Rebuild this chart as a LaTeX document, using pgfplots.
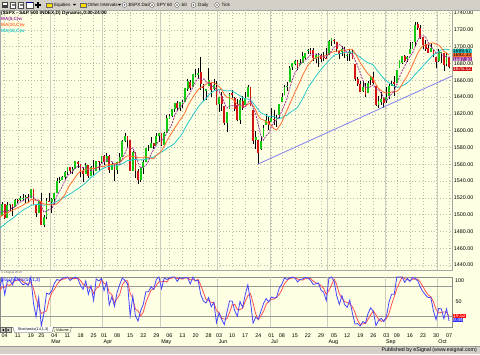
\documentclass[border=0pt]{standalone}
\usepackage{pgfplots}
\pgfplotsset{compat=1.18}
\usepackage{pgfplotstable}
\usepackage{fontspec}
\setmainfont{Liberation Sans}
\definecolor{bgy}{RGB}{255,255,228}
\definecolor{tbar}{RGB}{212,208,200}
\definecolor{upc}{RGB}{20,200,20}
\definecolor{dnc}{RGB}{210,20,20}
\definecolor{ma5}{RGB}{153,51,153}
\definecolor{ma10}{RGB}{255,110,50}
\definecolor{ma18}{RGB}{40,200,200}
\definecolor{trend}{RGB}{128,128,240}
\definecolor{kblue}{RGB}{70,70,255}
\definecolor{dred}{RGB}{255,80,80}
\definecolor{gridc}{RGB}{185,185,172}
\definecolor{monc}{RGB}{205,205,190}
\newcommand{\tb}{\fontsize{4.6}{5}\selectfont}
\newcommand{\lb}{\fontsize{5.4}{6}\selectfont}
\newcommand{\fl}{\fontsize{5}{5}\selectfont}
\pgfplotstableread{
i o h l c m5 m10 m18 k d
-2 1501.97 1504.19 1496.76 1498.11 1502.2 1496.1 1483.4 75 70
-1 1498.11 1514.41 1498.11 1513.17 1504.2 1499.3 1486.2 98 80
0 1513.17 1513.17 1495.02 1495.71 1503.4 1500.3 1488.4 64 79
1 1495.71 1514.96 1495.71 1511.29 1504.0 1502.1 1491.2 91 84.3
2 1511.29 1512.53 1504.71 1512.12 1506.0 1503.8 1493.4 93 82.7
3 1512.12 1512.90 1498.49 1509.39 1508.2 1505.2 1495.4 84 89.3
4 1509.39 1518.31 1509.39 1517.93 1509.2 1506.7 1498.1 100 92.3
5 1517.93 1518.31 1513.61 1517.01 1513.4 1508.4 1500.6 97 93.7
6 1517.01 1522.29 1515.61 1519.43 1515.0 1509.5 1503.1 90 95.7
7 1519.43 1524.69 1515.93 1520.33 1516.6 1511.3 1505.3 84 90.3
8 1520.33 1523.14 1514.02 1521.38 1519.0 1513.6 1507.2 87 87
9 1521.38 1524.24 1514.14 1519.79 1519.4 1514.3 1508.7 83 84.7
10 1519.79 1530.94 1519.79 1530.94 1522.2 1517.8 1510.7 100 90
11 1530.94 1530.94 1511.41 1511.95 1520.8 1517.9 1511.7 47 76.7
12 1511.95 1511.95 1497.29 1502.42 1517.2 1516.9 1511.6 19 55.3
13 1502.42 1515.64 1502.42 1515.60 1516.2 1517.6 1512.5 58 41.3
14 1515.60 1525.84 1487.85 1487.85 1509.8 1514.6 1511.4 0 25.7
15 1487.85 1498.99 1485.01 1496.94 1503.0 1512.6 1511.1 26 28
16 1496.94 1520.08 1494.88 1515.99 1503.8 1512.3 1512.1 67 31
17 1515.99 1525.34 1514.46 1514.68 1506.4 1511.8 1512.2 65 52.7
18 1514.68 1519.99 1501.48 1518.20 1506.8 1511.5 1513.4 72 68
19 1518.20 1525.27 1512.29 1525.20 1514.2 1512.0 1514.2 87 74.7
20 1525.20 1543.47 1525.20 1539.79 1522.8 1512.9 1515.8 95 84.7
21 1539.79 1545.25 1538.11 1541.46 1527.8 1515.8 1517.6 93 91.7
22 1541.46 1545.78 1541.46 1544.26 1533.6 1520.0 1519.0 97 95
23 1544.26 1552.48 1542.94 1551.18 1540.2 1523.5 1520.9 99 96.3
24 1551.15 1556.27 1547.36 1556.22 1546.4 1530.3 1522.9 100 98.7
25 1556.22 1556.77 1548.24 1552.48 1548.8 1535.8 1524.7 93 97.3
26 1552.48 1556.39 1548.25 1554.52 1551.6 1539.7 1526.6 97 96.7
27 1554.52 1563.32 1554.52 1563.23 1555.4 1544.5 1529.0 100 96.7
28 1563.21 1563.62 1555.74 1560.70 1557.4 1548.8 1530.7 96 97.7
29 1560.70 1560.70 1545.13 1552.10 1556.6 1551.5 1532.9 83 93
30 1552.10 1557.25 1538.57 1548.34 1555.8 1552.3 1535.4 75 84.7
31 1548.34 1561.56 1548.34 1558.71 1556.6 1554.1 1537.8 92 83.3
32 1558.71 1558.71 1543.55 1545.80 1553.2 1554.3 1541.1 65 77.3
33 1545.90 1557.74 1545.90 1556.89 1552.4 1554.9 1544.4 82 79.7
34 1556.89 1564.91 1546.22 1551.69 1552.4 1554.5 1546.4 52 66.3
35 1551.69 1563.95 1551.69 1563.77 1555.6 1555.7 1549.1 96 76.7
36 1563.75 1564.07 1551.90 1562.85 1556.4 1556.5 1551.6 92 80
37 1562.86 1570.28 1561.08 1569.19 1561.0 1557.1 1554.1 97 95
38 1569.18 1570.57 1558.47 1562.17 1562.0 1557.2 1555.3 72 87
39 1562.17 1573.66 1562.17 1570.25 1565.6 1559.0 1556.9 89 86
40 1570.25 1571.47 1549.80 1553.69 1563.6 1559.6 1557.4 43 68
41 1553.69 1562.60 1552.52 1559.98 1563.0 1559.7 1557.9 60 64
42 1559.98 1559.98 1539.50 1553.28 1559.8 1560.4 1557.8 40 47.7
43 1553.26 1563.07 1548.63 1563.07 1560.0 1561.0 1558.4 69 56.3
44 1563.11 1573.89 1560.92 1568.61 1559.8 1562.7 1559.2 85 64.7
45 1568.61 1589.07 1568.61 1587.73 1566.6 1565.1 1560.6 98 84
46 1587.73 1597.35 1586.17 1593.37 1573.2 1568.1 1562.3 93 92
47 1593.30 1593.30 1579.97 1588.85 1580.4 1570.1 1564.4 86 92.3
48 1588.84 1588.84 1552.28 1552.36 1578.2 1569.1 1564.6 21 66.7
49 1552.36 1575.35 1552.36 1574.57 1579.4 1569.6 1565.5 61 56
50 1574.57 1574.57 1543.69 1552.01 1572.2 1569.4 1565.8 21 34.3
51 1552.03 1554.38 1536.03 1541.61 1562.0 1567.6 1565.0 10 30.7
52 1541.61 1555.89 1539.40 1555.25 1555.2 1567.8 1565.2 31 20.7
53 1555.25 1565.55 1548.19 1562.50 1557.4 1567.8 1565.1 44 28.3
54 1562.50 1579.58 1562.50 1578.78 1558.2 1568.8 1566.0 70 48.3
55 1578.78 1583.00 1575.80 1578.79 1563.6 1567.9 1566.6 70 61.3
56 1578.78 1592.64 1578.78 1585.16 1572.2 1567.1 1567.8 80 73.3
57 1585.16 1585.78 1577.56 1582.24 1577.6 1566.4 1568.5 75 75
58 1582.34 1596.65 1582.34 1593.61 1583.8 1570.6 1570.7 95 83.3
59 1593.58 1597.57 1586.50 1597.57 1587.6 1572.9 1572.8 100 90
60 1597.55 1597.55 1581.28 1582.70 1588.4 1576.0 1574.5 76 90.3
61 1582.77 1598.60 1582.77 1597.59 1591.0 1581.6 1576.4 98 91.3
62 1597.60 1618.46 1597.60 1614.42 1597.4 1587.5 1578.9 95 89.7
63 1614.40 1619.77 1614.21 1617.50 1602.2 1593.0 1580.6 98 97
64 1617.55 1626.03 1616.64 1625.96 1607.8 1597.7 1582.4 100 97.7
65 1625.95 1632.78 1622.70 1632.69 1617.8 1603.1 1584.9 100 99.3
66 1632.69 1635.01 1623.09 1626.67 1623.6 1607.3 1589.1 91 97
67 1626.69 1633.70 1623.71 1633.70 1627.6 1612.5 1592.3 99 96.7
68 1632.10 1636.00 1626.74 1633.77 1630.8 1616.5 1596.9 97 95.7
69 1633.75 1651.10 1633.75 1650.34 1635.6 1621.7 1602.9 99 98.3
70 1649.13 1661.49 1646.68 1658.78 1640.8 1629.3 1608.7 98 98
71 1658.07 1660.51 1648.60 1650.47 1645.4 1634.5 1613.5 86 94.3
72 1652.45 1667.47 1652.45 1667.47 1652.0 1639.8 1618.4 100 94.7
73 1665.71 1672.84 1663.52 1666.29 1658.4 1644.6 1623.2 92 92.7
74 1666.20 1674.93 1662.67 1669.16 1662.2 1648.9 1627.9 93 95
75 1669.39 1687.18 1648.86 1655.35 1661.4 1651.1 1631.9 64 83
76 1651.62 1655.50 1635.53 1650.51 1661.6 1653.5 1635.1 51 69.3
77 1646.67 1649.78 1636.88 1649.60 1658.2 1655.1 1638.0 47 54
78 1652.63 1674.21 1652.63 1660.06 1657.0 1657.7 1642.3 58 52
79 1656.57 1656.57 1640.05 1648.36 1652.8 1657.5 1645.1 39 48
80 1649.14 1661.91 1648.61 1654.41 1652.6 1657.0 1647.3 48 48.3
81 1652.13 1658.99 1630.74 1630.74 1648.6 1655.1 1648.0 7 31.3
82 1631.71 1640.42 1622.72 1640.42 1646.6 1652.4 1648.8 27 27.3
83 1640.73 1646.53 1623.62 1631.38 1640.8 1648.9 1648.7 13 15.7
84 1629.05 1629.31 1607.09 1608.90 1633.0 1642.9 1647.7 3 14.3
85 1609.29 1622.56 1598.23 1622.56 1626.8 1639.7 1647.1 28 14.7
86 1625.27 1644.40 1625.27 1643.38 1629.2 1638.9 1647.6 51 27.3
87 1644.67 1648.69 1639.26 1642.81 1629.8 1638.2 1647.2 51 43.3
88 1638.64 1640.13 1622.92 1626.13 1628.8 1634.8 1645.3 31 44.3
89 1629.94 1637.71 1610.92 1612.52 1629.6 1631.3 1643.3 20 34
90 1612.15 1639.25 1608.07 1636.36 1632.2 1629.5 1641.6 50 33.7
91 1635.52 1640.80 1623.96 1626.73 1629.0 1629.1 1639.4 38 36
92 1630.64 1646.50 1630.34 1639.04 1628.2 1629.0 1637.7 64 50.7
93 1639.77 1654.19 1639.77 1651.81 1633.4 1631.1 1637.6 84 62
94 1651.83 1652.45 1628.91 1628.93 1636.6 1633.1 1636.3 51 66.3
95 1624.62 1624.62 1584.32 1588.19 1627.0 1629.6 1632.9 6 47
96 1588.62 1599.19 1577.70 1592.43 1620.0 1624.5 1629.1 18 25
97 1588.77 1588.77 1560.33 1573.09 1606.8 1617.5 1624.9 14 12.7
98 1577.52 1593.79 1577.09 1588.03 1594.0 1613.7 1621.3 30 20.7
99 1592.27 1606.83 1592.27 1603.26 1588.8 1612.7 1619.7 46 30
100 1606.44 1620.07 1606.44 1613.20 1593.8 1610.4 1618.2 56 44
101 1611.12 1615.94 1601.06 1606.28 1596.6 1608.3 1616.8 49 50.3
102 1609.78 1626.61 1609.78 1614.96 1605.0 1605.9 1617.2 59 54.7
103 1614.29 1624.26 1606.77 1614.08 1610.2 1602.1 1616.7 57 55
104 1611.48 1618.97 1604.57 1615.41 1612.6 1600.7 1615.1 59 58.3
105 1618.65 1632.07 1614.71 1631.89 1616.4 1605.1 1614.5 77 64.3
106 1634.20 1644.68 1634.20 1640.46 1623.2 1609.9 1615.3 85 73.7
107 1642.89 1654.18 1642.89 1652.32 1630.6 1617.8 1617.4 98 86.7
108 1652.50 1657.92 1647.66 1652.62 1638.4 1624.3 1618.4 95 92.7
109 1657.41 1676.63 1657.41 1675.02 1650.4 1631.5 1621.1 98 97
110 1675.26 1680.19 1672.33 1680.19 1660.0 1638.2 1623.3 100 97.7
111 1679.59 1684.51 1677.89 1682.50 1668.6 1645.9 1625.1 98 98.7
112 1682.70 1683.73 1671.84 1676.26 1673.4 1652.0 1627.7 90 96
113 1677.91 1684.75 1677.91 1680.91 1679.0 1658.7 1632.8 95 94.3
114 1681.05 1693.12 1681.05 1689.37 1681.8 1666.1 1638.2 96 93.7
115 1686.15 1692.09 1684.08 1692.09 1684.2 1672.1 1644.8 99 96.7
116 1694.41 1697.61 1690.67 1695.53 1686.8 1677.7 1650.8 98 97.7
117 1695.53 1698.78 1691.13 1692.39 1690.0 1681.7 1655.8 93 96.7
118 1696.06 1698.38 1682.57 1685.94 1691.0 1685.0 1659.8 85 92
119 1685.21 1690.94 1680.07 1690.25 1691.2 1686.5 1664.5 86 88
120 1687.31 1691.85 1676.03 1691.65 1691.2 1687.7 1668.8 88 86.3
121 1690.32 1690.92 1681.86 1685.33 1689.0 1687.9 1672.7 73 82.3
122 1687.92 1693.19 1682.42 1685.96 1687.8 1688.9 1676.7 69 76.7
123 1686.22 1698.43 1684.94 1685.73 1687.8 1689.4 1679.7 52 64.7
124 1689.42 1707.85 1689.42 1706.87 1691.2 1691.2 1683.4 97 72.7
125 1706.10 1709.67 1700.68 1709.67 1694.8 1693.0 1686.6 100 83
126 1708.01 1709.24 1703.55 1707.14 1699.2 1694.1 1689.6 91 96
127 1705.79 1705.79 1693.29 1697.37 1701.4 1694.6 1690.8 62 84.3
128 1695.30 1695.30 1684.91 1690.91 1702.4 1695.1 1691.4 44 65.7
129 1693.35 1700.18 1688.38 1697.48 1700.4 1695.8 1692.2 62 56
130 1696.10 1699.42 1686.02 1691.42 1696.6 1695.7 1693.1 44 50
131 1688.37 1691.49 1683.35 1689.47 1693.0 1696.1 1693.5 38 48
132 1690.65 1696.81 1682.62 1694.16 1692.4 1696.9 1693.8 53 45
133 1693.88 1695.52 1684.83 1685.39 1691.2 1696.8 1693.4 26 39
134 1679.61 1679.61 1658.59 1661.32 1684.0 1692.2 1691.4 4 27.7
135 1661.22 1663.60 1652.61 1655.83 1677.0 1686.8 1689.4 5 11.7
136 1655.25 1659.18 1645.84 1646.06 1668.4 1680.7 1687.2 0 3
137 1646.81 1658.92 1646.08 1652.35 1660.0 1676.2 1685.1 9 4.7
138 1650.66 1656.99 1639.43 1642.80 1651.6 1671.4 1682.4 6 5
139 1645.03 1659.55 1645.03 1656.96 1650.8 1667.4 1680.8 26 13.7
140 1659.92 1664.85 1654.81 1663.50 1652.4 1664.7 1679.6 37 23
141 1664.29 1669.51 1656.02 1656.78 1654.6 1661.5 1678.0 30 31
142 1652.54 1652.54 1629.05 1630.48 1650.2 1655.1 1673.7 1 22.7
143 1630.25 1641.18 1627.47 1634.96 1648.6 1650.1 1669.6 11 14
144 1633.50 1646.41 1630.88 1638.17 1644.8 1647.8 1665.7 16 9.3
145 1638.89 1640.08 1627.47 1632.97 1638.6 1645.5 1662.2 9 12
146 1635.95 1651.35 1633.41 1639.77 1635.2 1644.9 1659.3 19 14.7
147 1640.72 1655.72 1637.41 1653.08 1639.8 1645.0 1656.9 49 25.7
148 1653.28 1659.17 1653.07 1655.08 1643.8 1646.2 1654.9 65 44.3
149 1657.44 1664.83 1640.62 1655.17 1647.2 1646.0 1653.0 65 59.7
150 1656.85 1672.40 1656.85 1671.71 1655.0 1646.8 1651.8 100 76.7
151 1675.11 1684.09 1675.11 1683.99 1663.8 1649.5 1651.7 100 88.3
152 1681.04 1689.13 1678.70 1689.13 1671.0 1655.4 1653.3 100 100
153 1689.21 1689.97 1681.96 1683.42 1676.6 1660.2 1654.8 89 96.3
154 1685.04 1688.73 1682.22 1687.99 1683.2 1665.2 1657.1 97 95.3
155 1691.70 1704.95 1691.70 1697.60 1688.4 1671.7 1659.7 91 92.3
156 1697.73 1705.52 1697.73 1704.76 1692.6 1678.2 1663.1 99 95.7
157 1705.74 1729.44 1700.35 1725.52 1700.0 1685.5 1666.9 97 95.7
158 1727.34 1729.86 1720.20 1722.34 1707.8 1692.2 1670.2 92 96
159 1722.44 1725.23 1708.89 1709.91 1712.2 1697.7 1673.1 79 89.3
160 1711.44 1711.44 1697.10 1701.84 1713.0 1700.7 1677.1 70 80.3
161 1702.60 1707.63 1694.90 1697.42 1711.4 1702.0 1680.6 63 70.7
162 1698.02 1701.71 1691.88 1692.77 1704.8 1702.4 1683.6 58 63.7
163 1694.05 1703.85 1693.11 1698.67 1700.2 1704.0 1687.3 58 59.7
164 1695.52 1695.52 1687.11 1691.75 1696.6 1704.4 1690.2 31 49
165 1687.26 1687.26 1674.99 1681.55 1692.6 1702.8 1691.8 13 34
166 1682.41 1696.55 1682.07 1695.00 1692.2 1701.8 1694.0 36 26.7
167 1691.90 1693.87 1680.34 1693.87 1692.4 1698.6 1696.2 35 28
168 1692.35 1692.35 1670.36 1678.66 1688.4 1694.3 1696.6 15 28.7
169 1678.79 1691.94 1677.33 1690.50 1688.2 1692.4 1696.9 35 28.3
170 1687.15 1687.15 1674.70 1676.12 1687.0 1689.8 1696.2 10 20
}\data
\begin{document}
\begin{tikzpicture}[x=1bp,y=1bp]
\useasboundingbox (0,0) rectangle (480,354);
\fill[bgy] (0,0) rectangle (480,354);
% ---------- price panel ----------
\begin{axis}[
  at={(0bp,84bp)}, anchor=south west, scale only axis,
  width=452bp, height=260bp,
  xmin=-1.8, xmax=171.1, ymin=1434.05, ymax=1743.57,
  clip=false,
  axis line style={draw=black!35, line width=0.6bp},
  xtick={0,5,10,14,19,24,29,34,38,43,48,53,58,63,68,73,78,82,87,92,97,102,106,111,116,121,126,131,136,141,146,150,155,160,165,170},
  xticklabels={},
  ytick={1440,1460,...,1740},
  yticklabel pos=right,
  major tick length=0pt,
  grid=major,
  major grid style={gridc, line width=0.5bp, dash pattern=on 0.5bp off 2.6bp},
  extra x ticks={17.5,37.5,59.5,81.5,101.5,123.5,145.5,165.5},
  extra x tick labels={},
  extra x tick style={grid=major, major grid style={monc, line width=0.7bp, solid}},
  yticklabel style={font=\lb, anchor=west, inner sep=0pt, xshift=1.6bp},
  /pgf/number format/fixed, /pgf/number format/fixed zerofill,
  /pgf/number format/precision=2, /pgf/number format/1000 sep={},
  /pgf/number format/assume math mode=true,
]
\addplot[black, line width=0.6bp, quiver={u=0, v=\thisrow{h}-\thisrow{l}}]
  table[x=i, y=l] {\data};
\addplot[upc, line width=1.8bp, quiver={u=0, v=\thisrow{c}-\thisrow{o}}]
  table[x=i, y expr={\thisrow{c}>=\thisrow{o} ? \thisrow{o} : nan}] {\data};
\addplot[dnc, line width=1.8bp, quiver={u=0, v=\thisrow{c}-\thisrow{o}}]
  table[x=i, y expr={\thisrow{c}<\thisrow{o} ? \thisrow{o} : nan}] {\data};
\addplot[ma18, line width=0.8bp] table[x=i, y=m18] {\data};
\addplot[ma10, line width=0.8bp] table[x=i, y=m10] {\data};
\addplot[ma5, line width=0.8bp, dash pattern=on 2bp off 1bp] table[x=i, y=m5] {\data};
\addplot[trend, line width=0.8bp] coordinates {(97,1560.33) (171.1,1665)};
\end{axis}
% ---------- stochastic panel ----------
\begin{axis}[
  at={(0bp,27bp)}, anchor=south west, scale only axis,
  width=452bp, height=50bp,
  xmin=-1.8, xmax=171.1, ymin=-2, ymax=100,
  clip=false,
  axis line style={draw=black!45, line width=0.9bp},
  xtick={0,5,10,14,19,24,29,34,38,43,48,53,58,63,68,73,78,82,87,92,97,102,106,111,116,121,126,131,136,141,146,150,155,160,165,170},
  xticklabels={04,11,19,25,04,11,18,25,01,08,15,22,29,06,13,20,28,03,10,17,24,01,08,15,22,29,05,12,19,26,03,09,16,23,30,07},
  xticklabel style={font=\lb, anchor=base, yshift=-10.3bp, inner sep=0pt},
  ytick=\empty,
  major tick length=0pt,
  extra x ticks={17.5,37.5,59.5,81.5,101.5,123.5,145.5,165.5},
  extra x tick labels={},
  extra x tick style={grid=major, major grid style={monc, line width=0.7bp, solid}},
]
\draw[black!40, line width=0.9bp] (axis cs:-1.8,80) -- (axis cs:171.1,80);
\draw[black!40, line width=0.9bp] (axis cs:-1.8,20) -- (axis cs:171.1,20);
\addplot[dred, line width=0.8bp] table[x=i, y=d] {\data};
\addplot[kblue, line width=0.8bp] table[x=i, y=k] {\data};
\end{axis}
% month labels
\foreach \mx/\n in {50.45/Mar,102.74/Apr,160.25/May,217.76/Jun,270.05/Jul,327.56/Aug,385.07/Sep,437.36/Oct}{
  \node[anchor=base west, font=\lb, inner sep=0pt] at (\mx+0.8,10.2) {\n};
}
% ---------- toolbar ----------
\fill[tbar] (0,344) rectangle (480,354);
\draw[black!35, line width=0.5bp] (0,344) -- (480,344);
\fill[black!75] (2,346) rectangle (8,352); \fill[white] (3,349) rectangle (7,351);
\draw[black!70, fill=white, line width=0.3bp] (10.5,346) rectangle (15.5,352);
\draw[black!50, line width=0.3bp] (11.5,350)--(14.5,350) (11.5,348.5)--(14.5,348.5);
\draw[black!70, fill=white, line width=0.3bp] (18.5,346) rectangle (23.5,352);
\draw[black!50, line width=0.3bp] (19.5,350)--(22.5,350) (19.5,348.5)--(22.5,348.5);
\draw[black!70, fill=white, line width=0.3bp] (26,346) rectangle (33,352);
\fill[blue!60!black] (26,350.8) rectangle (33,352);
\draw[black, line width=1.1bp] (35,349)--(41,349) (38,346)--(38,352);
\fill[yellow!80!orange] (46,346.5) rectangle (52,351);
\draw[black!60, line width=0.3bp] (46,346.5) rectangle (52,351);
\node[anchor=west, font=\tb, inner sep=0] at (53.8,349) {Equities};
\fill[black] (73,350)--(76,350)--(74.5,348.3)--cycle;
\fill[yellow!80!orange] (80,346.5) rectangle (86,351);
\draw[black!60, line width=0.3bp] (80,346.5) rectangle (86,351);
\node[anchor=west, font=\tb, inner sep=0] at (87.5,349) {Other Intervals};
\fill[black] (118,350)--(121,350)--(119.5,348.3)--cycle;
\foreach \cx/\tx/\txt in {124.5/128.5/\$SPX Daily, 152/156.5/SPY 60, 177/181.5/60, 193.5/198/Daily, 217/221.5/Tick}{
  \draw[black!70, fill=white, line width=0.35bp] (\cx,349) circle (2.4);
  \fill[black!70] (\cx,349) circle (0.8);
  \node[anchor=west, font=\tb, inner sep=0] at (\tx,349) {\txt};
}
% ---------- header texts ----------
\node[anchor=west, font=\fontsize{4.8}{5}\selectfont\bfseries, inner sep=0] at (1,341) {(\$SPX - S\&P 500 INDEX,D) Dynamic,0:00-24:00};
\node[anchor=west, font=\fontsize{4.6}{5}\selectfont\bfseries, text=ma5, inner sep=0] at (1,335) {MA(5,C)w};
\node[anchor=west, font=\fontsize{4.6}{5}\selectfont\bfseries, text=ma10, inner sep=0] at (1,329) {MA(10,C)w};
\node[anchor=west, font=\fontsize{4.6}{5}\selectfont\bfseries, text=ma18, inner sep=0] at (1,323) {MA(18,C)w};
\node[anchor=west, font=\fontsize{3}{3}\selectfont, text=black!60, inner sep=0] at (1,81.5) {\copyright{} eSignal 2013};
\node[anchor=west, font=\fontsize{4.6}{5}\selectfont\bfseries, text=kblue, inner sep=0] at (1,74) {Stochastic(14,1,3)};
% ---------- right labels & flags ----------
\node[anchor=west, font=\lb, inner sep=0] at (455,73) {100};
\node[anchor=west, font=\lb, inner sep=0] at (455.5,52) {50};
\node[anchor=west, fill=ma18, text=black, font=\fl, inner sep=0.4bp, minimum height=4.2bp, text height=3.5bp, text depth=0pt] at (452.5,303.1) {1699.67};
\node[anchor=west, fill=ma10, text=black, font=\fl, inner sep=0.4bp, minimum height=4.2bp, text height=3.5bp, text depth=0pt] at (452.5,298.9) {1692.33};
\node[anchor=west, fill=ma5, text=white, font=\fl, inner sep=0.4bp, minimum height=4.2bp, text height=3.5bp, text depth=0pt] at (452.5,294.7) {1687.30};
\node[anchor=west, fill=dnc, text=white, font=\fl, inner sep=0.4bp, minimum height=4.2bp, text height=3.5bp, text depth=0pt] at (452.5,285) {1676.12};
\node[anchor=west, fill=red, text=white, font=\fl, inner sep=0.4bp, minimum height=4.2bp, text height=3.5bp, text depth=0pt] at (452.5,38.2) {19.52};
\node[anchor=west, fill=blue!80, text=white, font=\fl, inner sep=0.4bp, minimum height=4.2bp, text height=3.5bp, text depth=0pt] at (452.5,33.8) {9.44};
% ---------- tabs ----------
\draw[black!60, fill=tbar, line width=0.3bp] (0.5,21.5) rectangle (5.5,26.5);
\fill[black] (4,22.8) -- (4,25.2) -- (2,24) -- cycle;
\draw[black!60, fill=tbar, line width=0.3bp] (6,21.5) rectangle (11,26.5);
\fill[black] (7.5,22.8) -- (7.5,25.2) -- (9.5,24) -- cycle;
\draw[black!70, fill=white, line width=0.3bp] (13,26.8) -- (14.5,21.5) -- (52,21.5) -- (53.5,26.8);
\node[font=\fontsize{3.8}{4}\selectfont, inner sep=0] at (33.2,24) {Stochastic(14,1,3)};
\draw[black!70, line width=0.3bp] (53.5,26.8) -- (55,21.5) -- (70,21.5) -- (71.5,26.8);
\node[font=\fontsize{3.8}{4}\selectfont, inner sep=0] at (62.5,24) {Volume};
% ---------- status bar ----------
\fill[tbar] (0,0) rectangle (480,8);
\draw[black!40, line width=0.5bp] (0,8) -- (480,8);
\node[anchor=east, font=\fontsize{5.3}{6}\selectfont, inner sep=0] at (477,4) {Published by eSignal (www.esignal.com)};
\end{tikzpicture}
\end{document}
